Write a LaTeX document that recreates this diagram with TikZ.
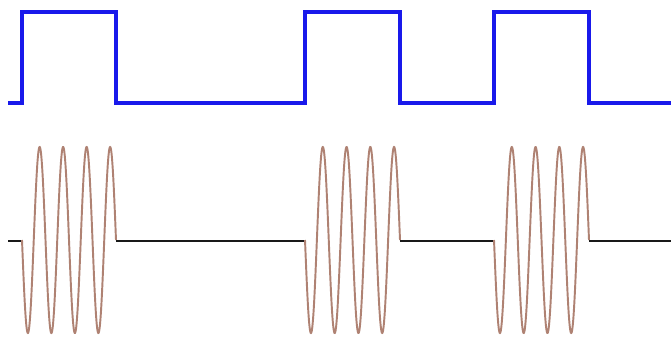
\documentclass[tikz,border=0pt]{standalone}
\definecolor{sqblue}{RGB}{25,25,235}
\definecolor{burst}{RGB}{175,130,115}
\definecolor{base}{RGB}{25,25,25}
\tikzset{
  square/.style={draw=sqblue, line width=2.3pt, line join=miter},
  baseline/.style={draw=base, line width=1.4pt},
  carrier/.style={draw=burst, line width=1.1pt},
}
\begin{document}
\begin{tikzpicture}[x=0.02cm,y=-0.02cm]
\useasboundingbox[fill=white] (0,0) rectangle (671,342);
% square wave
\coordinate (s0) at (8,103);
\draw[square] (s0) -- (22,103) -- (22,12) -- (116,12) -- (116,103) -- (305,103) -- (305,12) -- (400,12) -- (400,103) -- (494,103) -- (494,12) -- (589,12) -- (589,103) -- (671,103);
% baseline segments
\draw[baseline] (8,241) -- (22,241);
\draw[baseline] (116,241) -- (305,241);
\draw[baseline] (400,241) -- (494,241);
\draw[baseline] (589,241) -- (671,241);
% bursts
\foreach \a/\b in {22/116, 305/400, 494/589}{
  \draw[carrier] plot[domain=0:4, samples=400, smooth] ({\a + \x*(\b-\a)/4}, {240 + 93*sin(360*\x)});
}
\end{tikzpicture}
\end{document}
